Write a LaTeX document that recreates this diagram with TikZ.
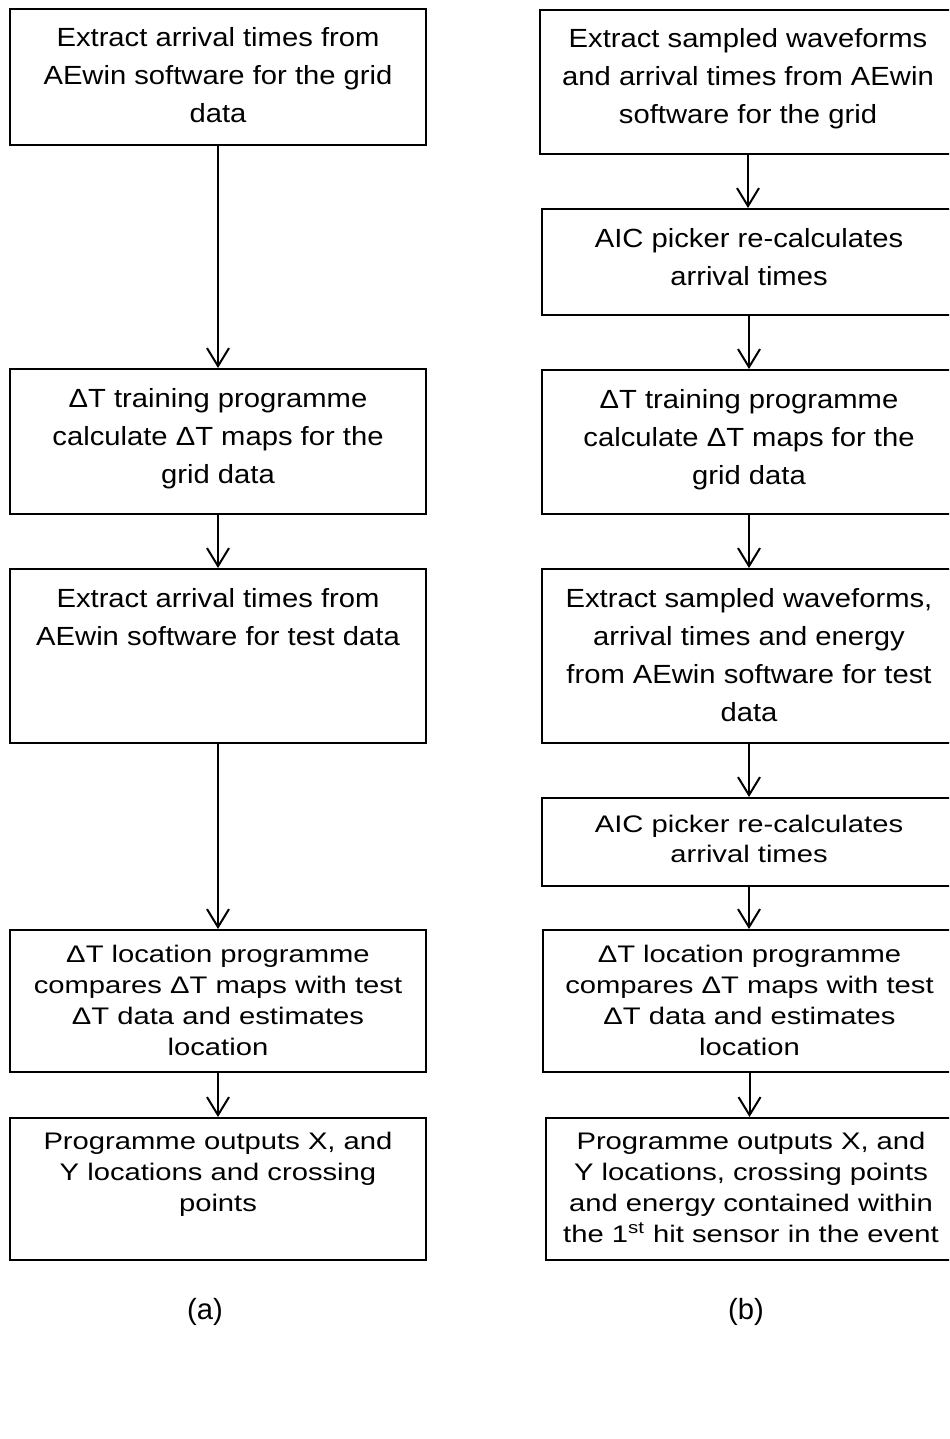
\documentclass[tikz,border=0pt]{standalone}
\usepackage{fontspec}
\usepackage{graphicx}
\setmainfont{Liberation Sans}
\usetikzlibrary{arrows.meta}
\tikzset{
  fbox/.style={draw=black, line width=1pt, inner sep=0pt, anchor=north west,
    font=\fontsize{14.6pt}{19pt}\selectfont},
  arr/.style={line width=1pt, -{Straight Barb[length=9pt,width=11pt,line width=1pt]}},
  lbl/.style={font=\fontsize{14.6pt}{19pt}\selectfont, inner sep=0pt}
}
% #1 name, #2 x, #3 y, #4 w, #5 h (px), #6 first baseline (pt), #7 baselineskip (pt), #8 text, #9 vertical scale (percent)
\newcommand\flowbox[9]{%
  \node[fbox] (#1) at (#2,#3)
  {\scalebox{1}[\fpeval{#9/100}]{\parbox[c][\fpeval{#5/2*100/#9}pt][t]{\fpeval{#4/2}pt}{\centering\baselineskip=\fpeval{#7*100/#9}pt\rule{0pt}{\fpeval{#6*100/#9}pt}#8\par}}};}
\begin{document}
\begin{tikzpicture}[x=0.5pt,y=-0.5pt]
\useasboundingbox (0,0) rectangle (949,1439);
\clip (0,0) rectangle (949,1439);
% column (a)
\flowbox{A1}{9}{8}{416}{136}{19}{19}{Extract arrival times from\\AEwin software for the grid\\data}{90}
\flowbox{A2}{9}{368}{416}{145}{19.3}{19}{ΔT training programme\\calculate ΔT maps for the\\grid data}{90}
\flowbox{A3}{9}{568}{416}{174}{19.2}{19}{Extract arrival times from\\AEwin software for test data}{90}
\flowbox{A4}{9}{929}{416}{142}{16.4}{15.5}{ΔT location programme\\compares ΔT maps with test\\ΔT data and estimates\\location}{82}
\flowbox{A5}{9}{1117}{416}{142}{15.5}{15.5}{Programme outputs X, and\\Y locations and crossing\\points}{82}
% column (b)
\flowbox{B1}{539}{9}{416}{144}{18.9}{19}{Extract sampled waveforms\\and arrival times from AEwin\\software for the grid}{90}
\flowbox{B2}{541}{208}{414}{106}{19.3}{19}{AIC picker re-calculates\\arrival times}{90}
\flowbox{B3}{541}{369}{414}{144}{19}{19}{ΔT training programme\\calculate ΔT maps for the\\grid data}{90}
\flowbox{B4}{541}{568}{414}{174}{19.2}{19}{Extract sampled waveforms,\\arrival times and energy\\from AEwin software for test\\data}{90}
\flowbox{B5}{541}{797}{414}{88}{17.4}{15}{AIC picker re-calculates\\arrival times}{82}
\flowbox{B6}{542}{929}{413}{142}{16.4}{15.5}{ΔT location programme\\compares ΔT maps with test\\ΔT data and estimates\\location}{82}
\flowbox{B7}{545}{1117}{410}{142}{15.5}{15.5}{Programme outputs X, and\\Y locations, crossing points\\and energy contained within\\the 1\textsuperscript{st} hit sensor in the event}{82}
% connectors (a)
\draw[arr] (A1.south) -- (A2.north);
\draw[arr] (A2.south) -- (A3.north);
\draw[arr] (A3.south) -- (A4.north);
\draw[arr] (A4.south) -- (A5.north);
% connectors (b)
\draw[arr] (B1.south) -- (B1.south |- B2.north);
\draw[arr] (B2.south) -- (B2.south |- B3.north);
\draw[arr] (B3.south) -- (B3.south |- B4.north);
\draw[arr] (B4.south) -- (B4.south |- B5.north);
\draw[arr] (B5.south) -- (B5.south |- B6.north);
\draw[arr] (B6.south) -- (B6.south |- B7.north);
% labels
\node[lbl] (la) at (205,1312) {(a)};
\node[lbl] (lb) at (746,1312) {(b)};
\end{tikzpicture}
\end{document}
